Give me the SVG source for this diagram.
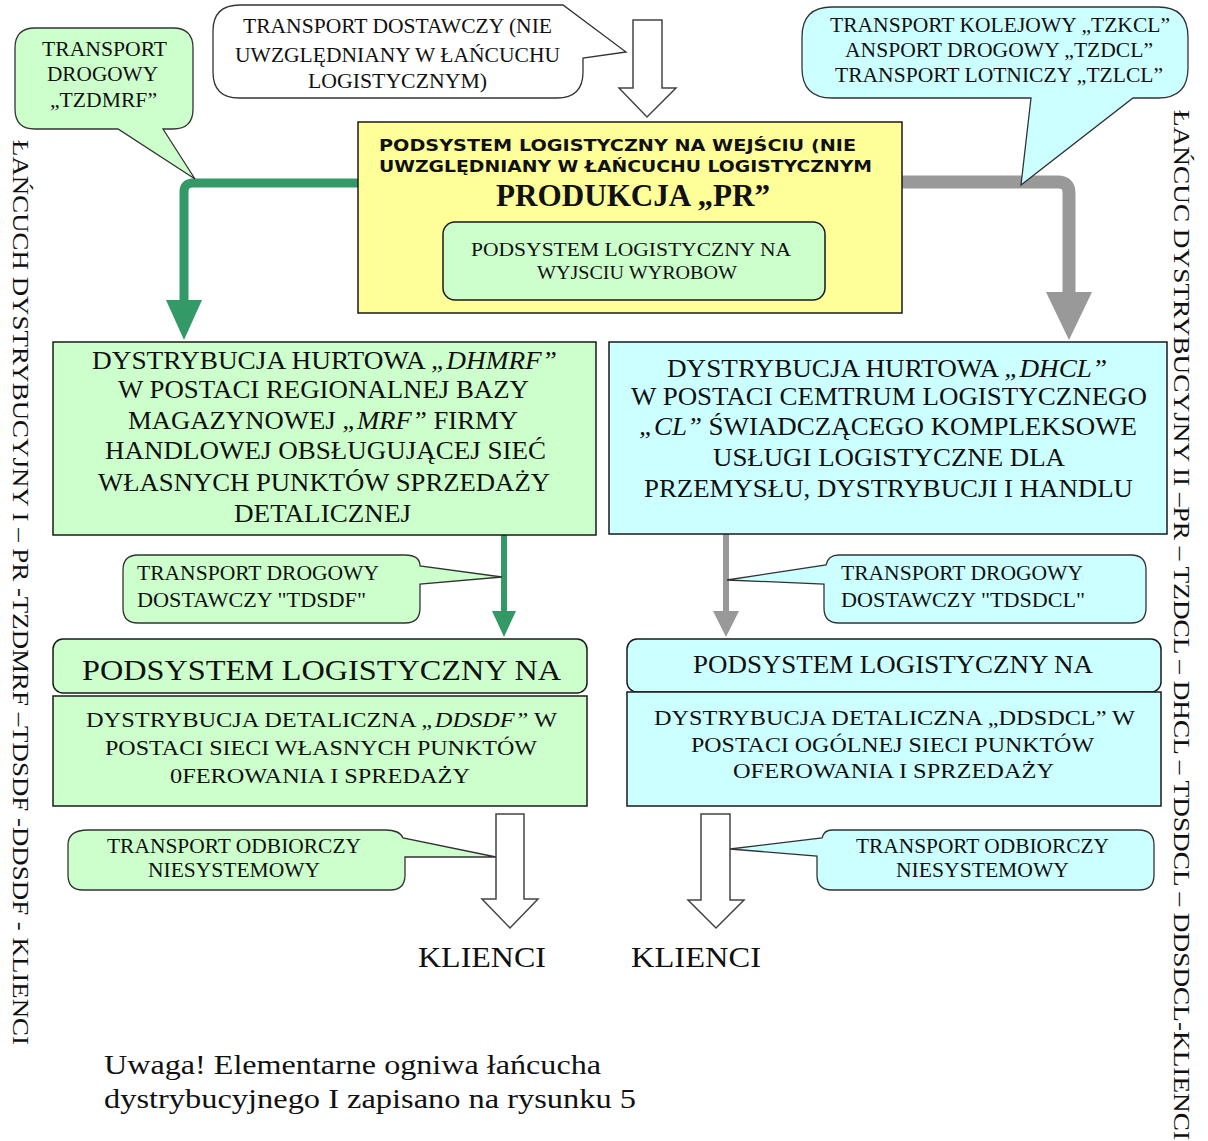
<svg xmlns="http://www.w3.org/2000/svg" width="1208" height="1141" viewBox="0 0 1208 1141">
<style>
.t{font-family:"Liberation Serif","Times New Roman",serif;fill:#111;}
.sb{font-family:"DejaVu Sans",Verdana,sans-serif;font-weight:bold;fill:#111;}
.box{stroke:#1a1a1a;stroke-width:1.5;}
.co{stroke:#333;stroke-width:1.3;}
.g{fill:#ccffcc;}
.c{fill:#ccffff;}
.y{fill:#ffff99;}
.w{fill:#ffffff;}
.hol{fill:#fff;stroke:#444;stroke-width:1.5;}
</style>
<rect width="1208" height="1141" fill="#fff"/>

<g id="connectors">
  <path d="M358,183 H193 Q184,183 184,192 V302" fill="none" stroke="#339966" stroke-width="9"/>
  <polygon points="166,300 202,300 184,340" fill="#339966"/>
  <path d="M902,182 H1058 Q1069,182 1069,193 V294" fill="none" stroke="#999999" stroke-width="13"/>
  <polygon points="1046,292 1092,292 1069,340" fill="#999999"/>
  <line x1="504" y1="535" x2="504" y2="613" stroke="#339966" stroke-width="6"/>
  <polygon points="492,611 516,611 504,637" fill="#339966"/>
  <line x1="726" y1="534" x2="726" y2="613" stroke="#999999" stroke-width="6"/>
  <polygon points="713,611 739,611 726,637" fill="#999999"/>
  <polygon class="hol" points="633,20 662,20 662,88 676,88 647,117 619,88 633,88"/>
  <polygon class="hol" points="496,814 524,814 524,899 538,899 510,928 482,899 496,899"/>
  <polygon class="hol" points="701,814 730,814 730,900 744,900 716,928 688,900 701,900"/>
</g>

<g id="callout-tzdmrf">
  <path class="g co" d="M35,28 H173 Q193,28 193,48 V109 Q193,129 173,129 H163 L195,179 L118,129 H35 Q15,129 15,109 V48 Q15,28 35,28 Z"/>
  <text class="t" font-size="21" x="42" y="56" textLength="125" lengthAdjust="spacingAndGlyphs">TRANSPORT</text>
  <text class="t" font-size="21" x="47" y="81" textLength="111" lengthAdjust="spacingAndGlyphs">DROGOWY</text>
  <text class="t" font-size="21" x="50" y="107" textLength="107" lengthAdjust="spacingAndGlyphs">„TZDMRF”</text>
</g>

<g id="callout-dostawczy">
  <path class="w co" d="M240,5 H563 L626,52 L583,58 V72 Q583,98 557,98 H239 Q213,98 213,72 V31 Q213,5 240,5 Z"/>
  <text class="t" font-size="21" x="243" y="33" textLength="309" lengthAdjust="spacingAndGlyphs">TRANSPORT DOSTAWCZY (NIE</text>
  <text class="t" font-size="21" x="235" y="62" textLength="325" lengthAdjust="spacingAndGlyphs">UWZGLĘDNIANY W ŁAŃCUCHU</text>
  <text class="t" font-size="21" x="308" y="88" textLength="179" lengthAdjust="spacingAndGlyphs">LOGISTYCZNYM)</text>
</g>

<g id="callout-tzkcl">
  <path class="c co" d="M832,7 H1158 Q1188,7 1188,37 V68 Q1188,98 1158,98 H1133 L1021,185 L1031,98 H832 Q802,98 802,68 V37 Q802,7 832,7 Z"/>
  <text class="t" font-size="21" x="830" y="32" textLength="340" lengthAdjust="spacingAndGlyphs">TRANSPORT KOLEJOWY „TZKCL”</text>
  <text class="t" font-size="21" x="845" y="57" textLength="308" lengthAdjust="spacingAndGlyphs">ANSPORT DROGOWY „TZDCL”</text>
  <text class="t" font-size="21" x="835" y="82" textLength="328" lengthAdjust="spacingAndGlyphs">TRANSPORT LOTNICZY „TZLCL”</text>
</g>

<g id="produkcja">
  <rect class="y box" x="358" y="122" width="544" height="191"/>
  <text class="sb" font-size="15" x="379" y="151" textLength="477" lengthAdjust="spacingAndGlyphs">PODSYSTEM LOGISTYCZNY NA WEJŚCIU (NIE</text>
  <text class="sb" font-size="15" x="379" y="172" textLength="493" lengthAdjust="spacingAndGlyphs">UWZGLĘDNIANY W ŁAŃCUCHU LOGISTYCZNYM</text>
  <text class="t" font-size="31" font-weight="bold" x="496" y="206" textLength="274" lengthAdjust="spacingAndGlyphs">PRODUKCJA „PR”</text>
</g>

<g id="wyjscie">
  <rect class="g box" x="443" y="222" width="382" height="78" rx="12"/>
  <text class="t" font-size="19" x="471" y="256" textLength="320" lengthAdjust="spacingAndGlyphs">PODSYSTEM LOGISTYCZNY NA</text>
  <text class="t" font-size="19" x="537" y="279" textLength="200" lengthAdjust="spacingAndGlyphs">WYJSCIU WYROBOW</text>
</g>

<g id="dhmrf">
  <rect class="g box" x="53" y="342" width="543" height="193"/>
  <text class="t" font-size="25" x="92" y="369" textLength="465" lengthAdjust="spacingAndGlyphs">DYSTRYBUCJA HURTOWA <tspan font-style="italic">„DHMRF”</tspan></text>
  <text class="t" font-size="25" x="118" y="398" textLength="411" lengthAdjust="spacingAndGlyphs">W POSTACI REGIONALNEJ BAZY</text>
  <text class="t" font-size="25" x="128" y="429" textLength="390" lengthAdjust="spacingAndGlyphs">MAGAZYNOWEJ <tspan font-style="italic">„MRF”</tspan> FIRMY</text>
  <text class="t" font-size="25" x="105" y="459" textLength="441" lengthAdjust="spacingAndGlyphs">HANDLOWEJ OBSŁUGUJĄCEJ SIEĆ</text>
  <text class="t" font-size="25" x="98" y="491" textLength="452" lengthAdjust="spacingAndGlyphs">WŁASNYCH PUNKTÓW SPRZEDAŻY</text>
  <text class="t" font-size="25" x="234" y="522" textLength="177" lengthAdjust="spacingAndGlyphs">DETALICZNEJ</text>
</g>

<g id="dhcl">
  <rect class="c box" x="609" y="342" width="558" height="192"/>
  <text class="t" font-size="25" x="667" y="377" textLength="440" lengthAdjust="spacingAndGlyphs">DYSTRYBUCJA HURTOWA <tspan font-style="italic">„DHCL”</tspan></text>
  <text class="t" font-size="25" x="631" y="405" textLength="516" lengthAdjust="spacingAndGlyphs">W POSTACI CEMTRUM LOGISTYCZNEGO</text>
  <text class="t" font-size="25" x="639" y="435" textLength="498" lengthAdjust="spacingAndGlyphs"><tspan font-style="italic">„CL”</tspan> ŚWIADCZĄCEGO KOMPLEKSOWE</text>
  <text class="t" font-size="25" x="713" y="466" textLength="352" lengthAdjust="spacingAndGlyphs">USŁUGI LOGISTYCZNE DLA</text>
  <text class="t" font-size="25" x="644" y="497" textLength="489" lengthAdjust="spacingAndGlyphs">PRZEMYSŁU, DYSTRYBUCJI I HANDLU</text>
</g>

<g id="callout-tdsdf">
  <path class="g co" d="M138,555 H405 Q420,555 420,566 L502,577 L420,584 V608 Q420,623 405,623 H138 Q123,623 123,608 V570 Q123,555 138,555 Z"/>
  <text class="t" font-size="20" x="137" y="580" textLength="242" lengthAdjust="spacingAndGlyphs">TRANSPORT DROGOWY</text>
  <text class="t" font-size="20" x="137" y="607" textLength="229" lengthAdjust="spacingAndGlyphs">DOSTAWCZY "TDSDF"</text>
</g>

<g id="callout-tdsdcl">
  <path class="c co" d="M839,555 H1131 Q1146,555 1146,570 V608 Q1146,623 1131,623 H839 Q824,623 824,608 V584 L727,580 L826,565 Q828,555 839,555 Z"/>
  <text class="t" font-size="20" x="841" y="580" textLength="242" lengthAdjust="spacingAndGlyphs">TRANSPORT DROGOWY</text>
  <text class="t" font-size="20" x="841" y="607" textLength="244" lengthAdjust="spacingAndGlyphs">DOSTAWCZY "TDSDCL"</text>
</g>

<g id="podsystem-left">
  <rect class="g box" x="53" y="639" width="534" height="54" rx="10"/>
  <text class="t" font-size="30" x="82" y="680" textLength="479" lengthAdjust="spacingAndGlyphs">PODSYSTEM LOGISTYCZNY NA</text>
</g>

<g id="ddsdf">
  <rect class="g box" x="53" y="696" width="534" height="110"/>
  <text class="t" font-size="21" x="86" y="727" textLength="471" lengthAdjust="spacingAndGlyphs">DYSTRYBUCJA DETALICZNA <tspan font-style="italic">„DDSDF”</tspan> W</text>
  <text class="t" font-size="21" x="105" y="755" textLength="432" lengthAdjust="spacingAndGlyphs">POSTACI SIECI WŁASNYCH PUNKTÓW</text>
  <text class="t" font-size="21" x="170" y="783" textLength="300" lengthAdjust="spacingAndGlyphs">0FEROWANIA I SPREDAŻY</text>
</g>

<g id="podsystem-right">
  <rect class="c box" x="627" y="639" width="534" height="53" rx="10"/>
  <text class="t" font-size="26" x="693" y="673" textLength="400" lengthAdjust="spacingAndGlyphs">PODSYSTEM LOGISTYCZNY NA</text>
</g>

<g id="ddsdcl">
  <rect class="c box" x="627" y="692" width="534" height="114"/>
  <text class="t" font-size="21" x="654" y="725" textLength="481" lengthAdjust="spacingAndGlyphs">DYSTRYBUCJA DETALICZNA „DDSDCL” W</text>
  <text class="t" font-size="21" x="691" y="752" textLength="403" lengthAdjust="spacingAndGlyphs">POSTACI OGÓLNEJ SIECI PUNKTÓW</text>
  <text class="t" font-size="21" x="733" y="778" textLength="321" lengthAdjust="spacingAndGlyphs">OFEROWANIA I SPRZEDAŻY</text>
</g>

<g id="callout-odbiorczy-left">
  <path class="g co" d="M88,830 H385 Q400,830 403,838 L496,857 L405,857 V875 Q405,890 390,890 H83 Q68,890 68,875 V845 Q68,830 88,830 Z"/>
  <text class="t" font-size="20" x="107" y="853" textLength="254" lengthAdjust="spacingAndGlyphs">TRANSPORT ODBIORCZY</text>
  <text class="t" font-size="20" x="148" y="877" textLength="172" lengthAdjust="spacingAndGlyphs">NIESYSTEMOWY</text>
</g>

<g id="callout-odbiorczy-right">
  <path class="c co" d="M832,830 H1139 Q1154,830 1154,845 V875 Q1154,890 1139,890 H832 Q817,890 817,875 V856 L730,849 L822,838 Q824,830 832,830 Z"/>
  <text class="t" font-size="20" x="856" y="853" textLength="253" lengthAdjust="spacingAndGlyphs">TRANSPORT ODBIORCZY</text>
  <text class="t" font-size="20" x="896" y="877" textLength="173" lengthAdjust="spacingAndGlyphs">NIESYSTEMOWY</text>
</g>

<g id="klienci-left">
  <text class="t" font-size="30" x="418" y="967" textLength="128" lengthAdjust="spacingAndGlyphs">KLIENCI</text>
</g>
<g id="klienci-right">
  <text class="t" font-size="30" x="631" y="967" textLength="130" lengthAdjust="spacingAndGlyphs">KLIENCI</text>
</g>

<g id="chain-left">
  <text class="t" font-size="24" transform="translate(13,140) rotate(90)" x="0" y="0" textLength="905" lengthAdjust="spacingAndGlyphs">ŁAŃCUCH DYSTRYBUCYJNY I – PR -TZDMRF –TDSDF -DDSDF - KLIENCI</text>
</g>
<g id="chain-right">
  <text class="t" font-size="24" transform="translate(1174,110) rotate(90)" x="0" y="0" textLength="1030" lengthAdjust="spacingAndGlyphs">ŁAŃCUC  DYSTRYBUCYJNY II –PR – TZDCL – DHCL – TDSDCL – DDSDCL-KLIENCI</text>
</g>

<g id="note">
  <text class="t" font-size="27" x="104" y="1074" textLength="497" lengthAdjust="spacingAndGlyphs">Uwaga! Elementarne ogniwa łańcucha</text>
  <text class="t" font-size="27" x="104" y="1108" textLength="532" lengthAdjust="spacingAndGlyphs">dystrybucyjnego I zapisano na rysunku 5</text>
</g>
</svg>
